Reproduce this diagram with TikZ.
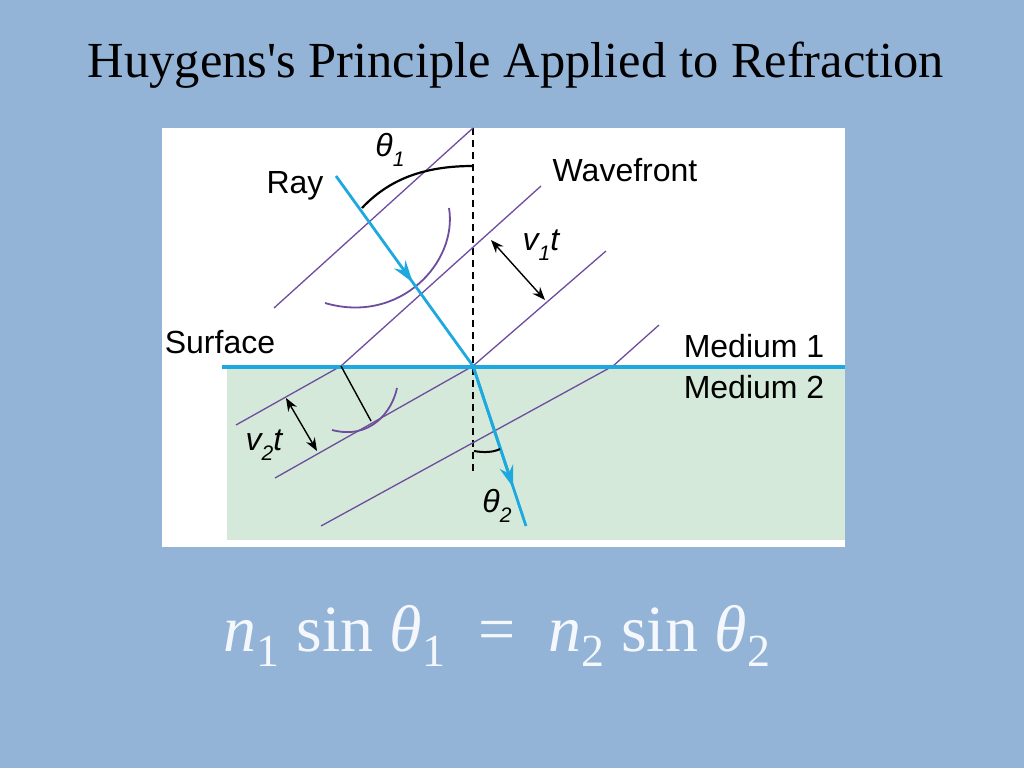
\documentclass[tikz,border=0pt]{standalone}
\usepackage{fontspec}
\setmainfont{Liberation Serif}
\newfontfamily\lab{Liberation Sans}
\usetikzlibrary{arrows.meta,calc}
\definecolor{bg}{HTML}{93B3D7}
\definecolor{cyanray}{HTML}{1DA9E0}
\definecolor{wav}{HTML}{6E4C9E}
\definecolor{med}{HTML}{D4E9D9}
\newcommand{\sbs}[1]{\raisebox{-0.3em}{\fontsize{21}{22}\selectfont #1}}
\newcommand{\esb}[1]{\raisebox{-0.22em}{\fontsize{46}{48}\selectfont #1}}
\begin{document}
\begin{tikzpicture}[x=1pt,y=-1pt,
  lbl/.style={font=\lab\fontsize{32}{34}\selectfont,inner sep=0pt},
  wf/.style={draw=wav,line width=1.3pt},
  ray/.style={draw=cyanray,line width=2.8pt},
  dbl/.style={{Stealth[length=13pt,width=10pt]}-{Stealth[length=13pt,width=10pt]},line width=1.4pt}]
\useasboundingbox (0,0) rectangle (1024,768);
\fill[bg] (0,0) rectangle (1024,768);
\node (title) at (516,65) {\fontsize{50.5}{54}\selectfont Huygens\textquotesingle s Principle Applied to Refraction};
\fill[white] (162,128) rectangle (845,547);
\fill[med] (227,367) rectangle (845,540);
% dashed normal
\coordinate (ntop) at (473,128);
\coordinate (nbot) at (473,471);
\draw[dash pattern=on 7pt off 5pt,line width=1.4pt] (ntop) -- (nbot);
% wavefronts
\draw[wf] (274,308) -- (473,128);
\draw[wf] (236,425) -- (341,366) -- (541,186);
\draw[wf] (275,478) -- (473,366) -- (606,251);
\draw[wf] (321,526) -- (613,366) -- (659,325);
% wavelet arcs
\draw[wf,line width=1.8pt] (449,208) .. controls (458,262) and (400,325) .. (325,303);
\draw[wf,line width=1.8pt] (397,388) .. controls (392,412) and (370,440) .. (332,430);
% surface
\coordinate (sl) at (222,367);
\coordinate (sr) at (845,367);
\draw[cyanray,line width=3.2pt] (sl) -- (sr);
% rays
\coordinate (r0) at (336,176);
\coordinate (hit) at (473,366);
\coordinate (r2) at (526,526);
\draw[ray] (r0) -- (hit);
\draw[ray,-{Stealth[length=22pt,width=14pt]}] ($(r0)!0.5!(hit)$) -- ($(r0)!0.56!(hit)$);
\draw[ray] (hit) -- (r2);
\draw[ray,-{Stealth[length=22pt,width=14pt]}] (hit) -- ($(hit)!0.76!(r2)$);
% angle arcs
\draw[line width=2.2pt] (362,208) .. controls (392,176) and (430,166) .. (473,166);
\draw[line width=2pt] (474,451) .. controls (485,453) and (494,452) .. (500,449);
% perpendicular and arrows
\draw[line width=1.4pt] (341,366) -- (371,421);
\draw[dbl] (491,240) -- (545,300);
\draw[dbl] (286,398) -- (317,451);
% labels
\node[lbl] (t1) at (390,150) {\itshape θ\sbs{1}};
\node[lbl] (ray) at (295,186) {Ray};
\node[lbl] (wav) at (625,170) {Wavefront};
\node[lbl] (sur) at (220,342) {Surface};
\node[lbl] (m1) at (754,346) {Medium 1};
\node[lbl] (m2) at (754,387) {Medium 2};
\node[lbl] (t2) at (497,506) {\itshape θ\sbs{2}};
\node[lbl] (v1) at (541,245) {\itshape v\sbs{1}t};
\node[lbl] (v2) at (264,445) {\itshape v\sbs{2}t};
% equation
\node[text=white!90!bg,font=\fontsize{66}{70}\selectfont] (eq) at (497,636)
  {\textit{n}\esb{1} sin \textit{θ}\esb{1} \ = \ \textit{n}\esb{2} sin \textit{θ}\esb{2}};
\end{tikzpicture}
\end{document}
